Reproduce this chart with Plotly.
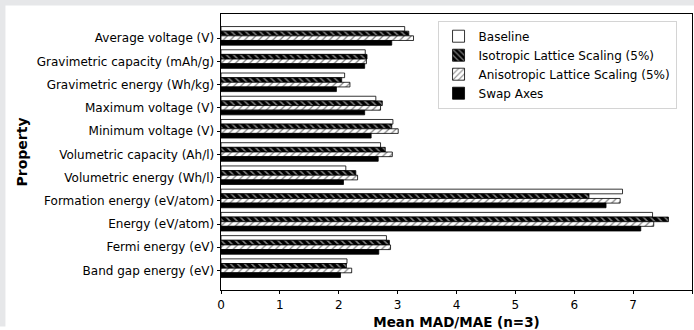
import plotly.graph_objects as go

categories = [
    "Average voltage (V)",
    "Gravimetric capacity (mAh/g)",
    "Gravimetric energy (Wh/kg)",
    "Maximum voltage (V)",
    "Minimum voltage (V)",
    "Volumetric capacity (Ah/l)",
    "Volumetric energy (Wh/l)",
    "Formation energy (eV/atom)",
    "Energy (eV/atom)",
    "Fermi energy (eV)",
    "Band gap energy (eV)",
]
series_names = [
    "Baseline",
    "Isotropic Lattice Scaling (5%)",
    "Anisotropic Lattice Scaling (5%)",
    "Swap Axes",
]
baseline = [3.12, 2.45, 2.10, 2.63, 2.92, 2.71, 2.12, 6.82, 7.33, 2.81, 2.14]
isotropic = [3.19, 2.48, 2.05, 2.74, 2.90, 2.79, 2.29, 6.25, 7.60, 2.86, 2.13]
anisotropic = [3.27, 2.47, 2.19, 2.71, 3.01, 2.91, 2.32, 6.78, 7.35, 2.88, 2.22]
swap_axes = [2.90, 2.44, 1.96, 2.44, 2.55, 2.67, 2.08, 6.54, 7.13, 2.68, 2.03]
x_ticks = [0, 1, 2, 3, 4, 5, 6, 7, 8]

FONT = "DejaVu Sans"
W, H = 694, 330
L, R, T, B = 221, 1, 14, 28
pw, ph = W - L - R, H - T - B
FRAME = "#e6e7e9"

bar_w = 0.2
offsets = [-0.5, -0.3, -0.1, 0.1]
styles = [
    dict(color="white", pattern=None),
    dict(color="black", pattern=dict(shape="\\", fgcolor="white", bgcolor="black", size=5, solidity=0.3)),
    dict(color="white", pattern=dict(shape="/", fgcolor="black", bgcolor="white", size=5, solidity=0.25)),
    dict(color="black", pattern=None),
]

fig = go.Figure()
for name, vals, off, st in zip(series_names, [baseline, isotropic, anisotropic, swap_axes], offsets, styles):
    marker = dict(color=st["color"], line=dict(color="black", width=0.8))
    if st["pattern"]:
        marker["pattern"] = st["pattern"]
    fig.add_trace(go.Bar(
        x=vals, y=categories, orientation="h", name=name,
        width=bar_w, offset=off, marker=marker,
    ))

def px_x(p):
    return (p - L) / pw

def px_y(p):
    return (H - B - p) / ph

fig.update_layout(
    width=W, height=H,
    margin=dict(l=L, r=R, t=T, b=B, pad=0),
    paper_bgcolor="white",
    plot_bgcolor="white",
    barmode="overlay",
    font=dict(family=FONT, size=12, color="black"),
    showlegend=True,
    legend=dict(
        x=px_x(438), y=px_y(21), xanchor="left", yanchor="top",
        bgcolor="rgba(255,255,255,0.85)", bordercolor="#d4d4d4", borderwidth=1,
        font=dict(family=FONT, size=12), tracegroupgap=0,
    ),
    shapes=[
        dict(type="rect", xref="paper", yref="paper", layer="below",
             x0=px_x(-10), x1=px_x(W + 10), y0=px_y(5), y1=px_y(-10),
             fillcolor=FRAME, line=dict(width=0)),
        dict(type="rect", xref="paper", yref="paper", layer="below",
             x0=px_x(-10), x1=px_x(5), y0=px_y(H + 10), y1=px_y(-10),
             fillcolor=FRAME, line=dict(width=0)),
    ],
    xaxis=dict(
        range=[0, 8], tickvals=x_ticks, ticks="outside", ticklen=3.5, tickwidth=0.8,
        tickcolor="black", showline=True, linecolor="black", linewidth=0.8, mirror=True,
        showgrid=False, zeroline=False, tickfont=dict(size=12),
        title=dict(text="<b>Mean MAD/MAE (n=3)</b>", font=dict(size=13.5), standoff=8),
    ),
    yaxis=dict(
        type="category", categoryorder="array", categoryarray=categories,
        range=[10.84, -1.04], ticks="outside", ticklen=3.5, tickwidth=0.8,
        tickcolor="black", showline=True, linecolor="black", linewidth=0.8, mirror=True,
        showgrid=False, zeroline=False, tickfont=dict(size=12),
        title=dict(text="<b>Property</b>", font=dict(size=14), standoff=5),
    ),
)

fig.write_html(
    "out.html",
    config={"displayModeBar": False},
    post_script="document.body.style.margin='0';document.body.style.padding='0';document.body.style.overflow='hidden';",
)
